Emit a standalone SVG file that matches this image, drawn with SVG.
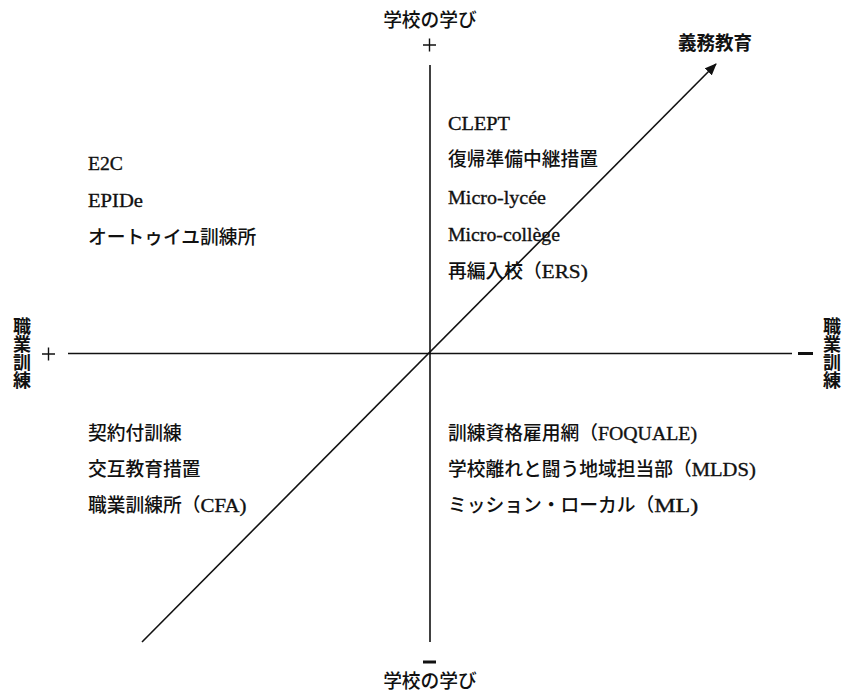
<svg xmlns="http://www.w3.org/2000/svg" width="846" height="700" viewBox="0 0 846 700">
<style>
  .t { font-family: "Noto Sans CJK JP", "Noto Sans CJK SC", sans-serif; font-size: 18.75px; font-weight: 500; fill: #111; }
  .l { font-family: "Liberation Serif", "DejaVu Serif", serif; font-size: 19.5px; font-weight: normal; stroke: #111; stroke-width: 0.35; }
  .b { font-weight: bold; }
  .v { writing-mode: vertical-rl; font-size: 18px; }
  .axis { stroke: #111; stroke-width: 1.6; fill: none; }
  .sign { stroke: #111; stroke-width: 1.4; fill: none; }
  .minus { stroke: #111; stroke-width: 3; fill: none; }
</style>
<defs>
  <marker id="ah" viewBox="0 0 12 10" refX="11" refY="5" markerWidth="12" markerHeight="10" markerUnits="userSpaceOnUse" orient="auto">
    <path d="M0,0 L12,5 L0,10 Z" fill="#111"/>
  </marker>
</defs>
<rect width="846" height="700" fill="#fff"/>

<g id="connectors">
  <line class="axis" x1="430" y1="65" x2="430" y2="642"/>
  <line class="axis" x1="68" y1="353.5" x2="792" y2="353.5"/>
  <line class="axis" x1="142" y1="642" x2="716" y2="64" marker-end="url(#ah)"/>
</g>

<g id="axis-top">
  <text class="t" x="430" y="27" text-anchor="middle">学校の学び</text>
  <path class="sign" d="M423,45 H436 M429.5,38.5 V51.5"/>
</g>
<g id="axis-bottom">
  <path class="minus" d="M423,662 H436"/>
  <text class="t" x="430" y="688" text-anchor="middle">学校の学び</text>
</g>
<g id="axis-left">
  <text class="t b v" x="22" y="317">職業訓練</text>
  <path class="sign" d="M42,354 H55 M48.5,347.5 V360.5"/>
</g>
<g id="axis-right">
  <path class="minus" d="M798,353.5 H813"/>
  <text class="t b v" x="832" y="317">職業訓練</text>
</g>
<g id="compulsory">
  <text class="t b" x="678" y="50" textLength="74" lengthAdjust="spacingAndGlyphs">義務教育</text>
</g>

<g id="q-top-left">
  <text class="t l" x="88" y="170" textLength="35" lengthAdjust="spacingAndGlyphs">E2C</text>
  <text class="t l" x="88" y="207" textLength="55" lengthAdjust="spacingAndGlyphs">EPIDe</text>
  <text class="t" x="88" y="244">オートゥイユ訓練所</text>
</g>
<g id="q-top-right">
  <text class="t l" x="448" y="130" textLength="62" lengthAdjust="spacingAndGlyphs">CLEPT</text>
  <text class="t" x="448" y="166">復帰準備中継措置</text>
  <text class="t l" x="448" y="204" textLength="98" lengthAdjust="spacingAndGlyphs">Micro-lycée</text>
  <text class="t l" x="448" y="241" textLength="112" lengthAdjust="spacingAndGlyphs">Micro-collège</text>
  <text class="t" x="448" y="278">再編入校（<tspan class="l" textLength="46" lengthAdjust="spacingAndGlyphs">ERS)</tspan></text>
</g>
<g id="q-bottom-left">
  <text class="t" x="88" y="440">契約付訓練</text>
  <text class="t" x="88" y="476">交互教育措置</text>
  <text class="t" x="88" y="512">職業訓練所（<tspan class="l" textLength="46" lengthAdjust="spacingAndGlyphs">CFA)</tspan></text>
</g>
<g id="q-bottom-right">
  <text class="t" x="448" y="440">訓練資格雇用網（<tspan class="l" textLength="99" lengthAdjust="spacingAndGlyphs">FOQUALE)</tspan></text>
  <text class="t" x="448" y="476">学校離れと闘う地域担当部（<tspan class="l" textLength="64" lengthAdjust="spacingAndGlyphs">MLDS)</tspan></text>
  <text class="t" x="448" y="512">ミッション・ローカル（<tspan class="l" textLength="44" lengthAdjust="spacingAndGlyphs">ML)</tspan></text>
</g>
</svg>
